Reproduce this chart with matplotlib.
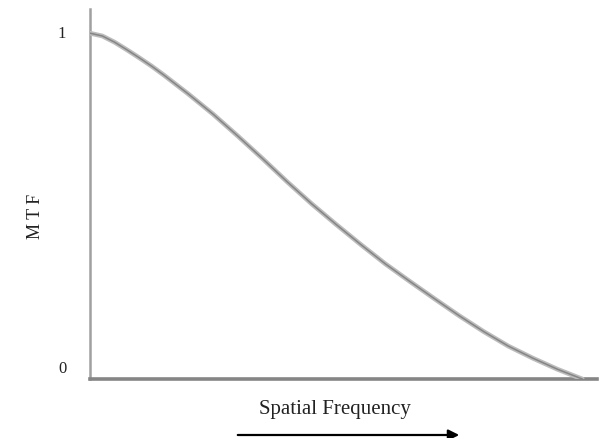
import matplotlib.pyplot as plt

freq = [0.0, 0.025, 0.05, 0.075, 0.10, 0.125, 0.15, 0.20, 0.25, 0.30, 0.35,
        0.40, 0.45, 0.50, 0.55, 0.60, 0.65, 0.70, 0.75, 0.80, 0.85, 0.90,
        0.95, 1.0]
mtf = [1.000, 0.992, 0.974, 0.952, 0.929, 0.905, 0.879, 0.824, 0.766, 0.703,
       0.638, 0.571, 0.507, 0.447, 0.389, 0.333, 0.282, 0.232, 0.183, 0.137,
       0.095, 0.060, 0.028, 0.0]

ytick_vals = [0, 1]
ytick_labels = ["0", "1"]

plt.rcParams['font.family'] = ['Liberation Serif', 'DejaVu Serif']

fig = plt.figure(figsize=(6.07, 4.39), dpi=100)
ax = fig.add_axes([90 / 607, 59 / 439, 507 / 607, 370 / 439])

# soft double-edged grey stroke
ax.plot(freq, mtf, color="#bcbcbc", lw=3.4, solid_capstyle="round",
        solid_joinstyle="round", zorder=3)
ax.plot(freq, mtf, color="#858585", lw=1.1, solid_joinstyle="round", zorder=4)

ax.set_xlim(0, 1.03)
ax.set_ylim(0, 1.07)

for side in ("top", "right"):
    ax.spines[side].set_visible(False)
ax.spines["left"].set_color("#a0a0a0")
ax.spines["left"].set_linewidth(1.8)
ax.spines["bottom"].set_color("#858585")
ax.spines["bottom"].set_linewidth(2.6)

ax.set_xticks([])
ax.set_yticks([])

# tick labels sit a little above the line they refer to
ytrans = ax.get_yaxis_transform()
ax.text(-0.055, ytick_vals[1], ytick_labels[1], transform=ytrans,
        ha="center", va="center", fontsize=12, color="#222222")
ax.text(-0.055, ytick_vals[0] + 0.01, ytick_labels[0], transform=ytrans,
        ha="center", va="bottom", fontsize=12, color="#222222")

fig.text(36 / 607, 1 - 216 / 439, "M T F", rotation=90, ha="center", va="center",
         fontsize=13, color="#222222")
fig.text(335 / 607, 1 - 410 / 439, "Spatial Frequency", ha="center", va="center",
         fontsize=15, color="#222222")

ax.annotate("", xy=(462 / 607, 1 - 436 / 439), xytext=(235 / 607, 1 - 436 / 439),
            xycoords="figure fraction", textcoords="figure fraction",
            arrowprops=dict(arrowstyle="-|>", color="black", lw=1.6,
                            mutation_scale=16))

fig.savefig("out.png", dpi=100)
